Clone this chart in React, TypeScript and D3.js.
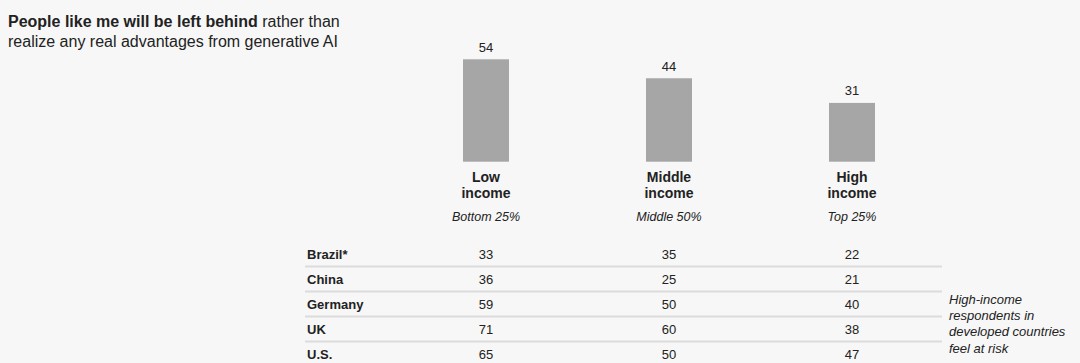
import React from "react";
import * as d3 from "d3";

const groups = ["Low income", "Middle income", "High income"];
const groupLines = [["Low", "income"], ["Middle", "income"], ["High", "income"]];
const groupSubs = ["Bottom 25%", "Middle 50%", "Top 25%"];
const overall = [54, 44, 31];
const countries = ["Brazil*", "China", "Germany", "UK", "U.S."];
const lowVals = [33, 36, 59, 71, 65];
const midVals = [35, 25, 50, 60, 50];
const highVals = [22, 21, 40, 38, 47];
const noteLines = ["High-income", "respondents in", "developed countries", "feel at risk"];

const W = 1080;
const H = 363;
const FONT = "'Liberation Sans', Arial, sans-serif";
const TXT = "#222";

export default function App() {
  const x = d3.scalePoint<string>().domain(groups).range([486, 852]);
  const y = d3.scaleLinear().domain([0, 54]).range([161.7, 59.3]);
  const rowY = d3.scaleBand<string>().domain(countries).range([241, 366]).paddingInner(0);
  const barW = 46;
  const cols = [lowVals, midVals, highVals];

  return (
    <svg width={W} height={H} style={{ position: "absolute", left: 0, top: 0, display: "block", background: "#f7f7f7" }} fontFamily={FONT}>
      <rect x={0} y={0} width={W} height={H} fill="#f7f7f7" />
      <text x={8} y={27} fontSize={16} fill={TXT}>
        <tspan fontWeight="bold">People like me will be left behind</tspan>
        <tspan> rather than</tspan>
      </text>
      <text x={8} y={46.5} fontSize={16} fill={TXT}>realize any real advantages from generative AI</text>

      {groups.map((g, i) => {
        const cx = x(g)!;
        return (
          <g key={g}>
            <rect x={cx - barW / 2} y={y(overall[i])} width={barW} height={y(0) - y(overall[i])} fill="#a6a6a6" />
            <text x={cx} y={y(overall[i]) - 7.6} fontSize={13} textAnchor="middle" fill={TXT}>{overall[i]}</text>
            {groupLines[i].map((l, j) => (
              <text key={j} x={cx} y={182 + j * 15.6} fontSize={14} fontWeight="bold" textAnchor="middle" fill={TXT}>{l}</text>
            ))}
            <text x={cx} y={221} fontSize={12.5} fontStyle="italic" textAnchor="middle" fill={TXT}>{groupSubs[i]}</text>
          </g>
        );
      })}

      {countries.map((c, r) => {
        const top = rowY(c)!;
        const bw = rowY.bandwidth();
        return (
          <g key={c}>
            <text x={307} y={top + 18} fontSize={13} fontWeight="bold" fill={TXT}>{c}</text>
            {groups.map((g, i) => (
              <text key={g} x={x(g)!} y={top + 18} fontSize={13} textAnchor="middle" fill={TXT}>{cols[i][r]}</text>
            ))}
            {r < countries.length - 1 && (
              <rect x={305} y={top + bw - 0.5} width={637} height={2} fill="#dcdcdc" />
            )}
          </g>
        );
      })}

      {noteLines.map((l, i) => (
        <text key={i} x={949} y={303.5 + i * 16.4} fontSize={13} fontStyle="italic" fill={TXT}>{l}</text>
      ))}
    </svg>
  );
}
